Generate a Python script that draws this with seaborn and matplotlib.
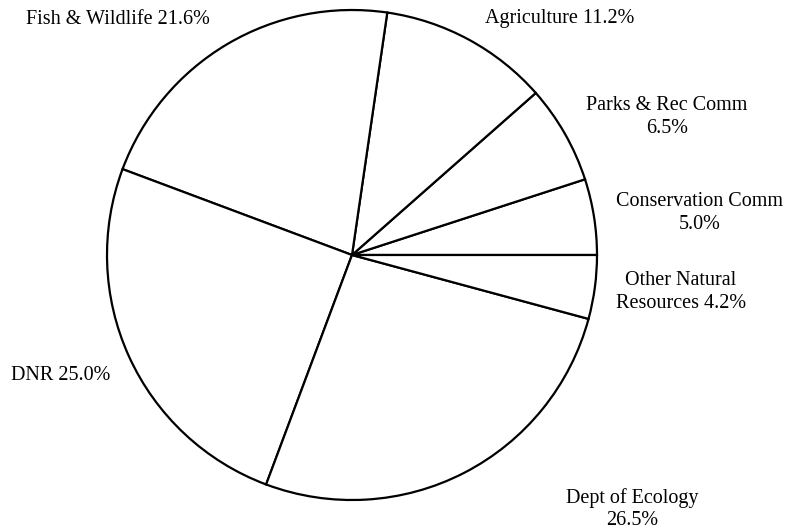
import matplotlib.pyplot as plt
import seaborn as sns

sns.set_theme(style='white')
plt.rcParams['font.family'] = ['Liberation Serif', 'DejaVu Serif']

# wedges in counter-clockwise order from 3 o'clock
names = ['Conservation Comm', 'Parks & Rec Comm', 'Agriculture', 'Fish & Wildlife',
         'DNR', 'Dept of Ecology', 'Other Natural Resources']
shares = [5.0, 6.5, 11.2, 21.6, 25.0, 26.5, 4.2]
label_text = ['Conservation Comm\n5.0%', 'Parks & Rec Comm\n6.5%', 'Agriculture 11.2%',
              'Fish & Wildlife 21.6%', 'DNR 25.0%', 'Dept of Ecology\n26.5%',
              'Other Natural\nResources 4.2%']
# label centres in pixels (x, y from top)
label_px = [(700, 213), (667, 117), (560, 19), (118, 20), (61, 375), (632, 509), (681, 292)]

W, H = 800, 532
fig = plt.figure(figsize=(W / 100, H / 100), dpi=100)
cx, cy, r = 352, 255, 245
ax = fig.add_axes([(cx - r) / W, (H - cy - r) / H, 2 * r / W, 2 * r / H])
ax.pie(shares, startangle=0, counterclock=True, colors=['white'] * len(shares),
       wedgeprops={'edgecolor': 'black', 'linewidth': 1.6, 'clip_on': False})
ax.set_xlim(-1, 1)
ax.set_ylim(-1, 1)
ax.set_aspect('equal')
ax.axis('off')

for txt, (x, y) in zip(label_text, label_px):
    fig.text(x / W, 1 - y / H, txt, ha='center', va='center', fontsize=14.5,
             linespacing=1.22, color='black')

fig.savefig('out.png', dpi=100, facecolor='white')
